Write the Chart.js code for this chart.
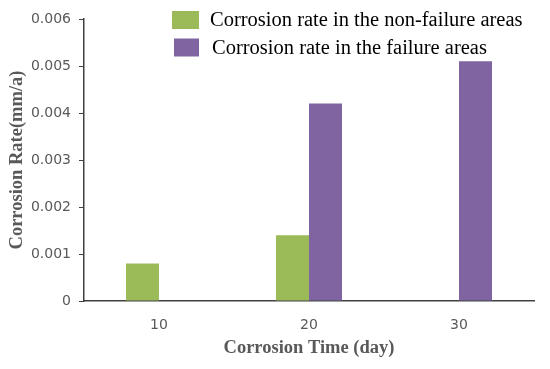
<!DOCTYPE html>
<html>
<head>
<meta charset="utf-8">
<script src="https://cdn.jsdelivr.net/npm/chart.js@4"></script>
<style>
  html, body { margin: 0; padding: 0; background: #fff; }
  #wrap { width: 550px; height: 369px; }
</style>
</head>
<body>
<div id="wrap"><canvas id="chart" width="550" height="369"></canvas></div>
<script>
// Data
const days = ['10', '20', '30'];
const nonFailureRate = [0.0008, 0.0014, null];
const failureRate = [null, 0.0042, 0.0051];
const seriesNames = ['Corrosion rate in the non-failure areas', 'Corrosion rate in the failure areas'];
const seriesColors = ['#9BBB59', '#8064A2'];

const axisColor = '#595959';
const serif = '"Liberation Serif", "Times New Roman", serif';
const sans = '"DejaVu Sans", Verdana, sans-serif';

// Legend drawn inside the plot, top right, like the original
const innerLegend = {
  id: 'innerLegend',
  afterDraw(chart) {
    const ctx = chart.ctx;
    ctx.save();
    ctx.font = '20.5px ' + serif;
    ctx.textBaseline = 'middle';
    chart.data.datasets.forEach((ds, i) => {
      const y = 20 + i * 27.5;
      ctx.fillStyle = ds.backgroundColor;
      ctx.fillRect(172 + i * 2, y - 9, 27 - i * 2, 18);
      ctx.fillStyle = '#000';
      ctx.fillText(ds.label, 210 + i * 2, y + 1);
    });
    ctx.restore();
  }
};

new Chart(document.getElementById('chart'), {
  type: 'bar',
  data: {
    labels: days,
    datasets: [
      { label: seriesNames[0], data: nonFailureRate, backgroundColor: seriesColors[0] },
      { label: seriesNames[1], data: failureRate, backgroundColor: seriesColors[1] }
    ]
  },
  options: {
    responsive: false,
    animation: false,
    layout: { padding: { top: 19, right: 16, left: 6, bottom: 10 } },
    datasets: {
      bar: { categoryPercentage: 0.44, barPercentage: 1.0 }
    },
    plugins: {
      legend: { display: false },
      tooltip: { enabled: false }
    },
    scales: {
      x: {
        grid: { display: false },
        border: { display: true, color: '#404040', width: 1.5 },
        ticks: {
          color: axisColor,
          font: { family: sans, size: 14 },
          padding: 8
        },
        title: {
          display: true,
          text: 'Corrosion Time (day)',
          color: axisColor,
          font: { family: serif, size: 18.5, weight: 'bold' },
          padding: { top: 0, bottom: 0 }
        },
        afterFit(scale) { scale.height = 58; }
      },
      y: {
        min: 0,
        max: 0.006,
        grid: { drawOnChartArea: false, drawTicks: true, tickLength: 5, color: '#404040' },
        border: { display: true, color: '#404040', width: 1.5 },
        ticks: {
          stepSize: 0.001,
          color: axisColor,
          font: { family: sans, size: 14 },
          padding: 8,
          callback: v => v === 0 ? '0' : v.toFixed(3)
        },
        title: {
          display: true,
          text: 'Corrosion Rate(mm/a)',
          color: axisColor,
          font: { family: serif, size: 18.5, weight: 'bold' },
          padding: { top: 0, bottom: 2 }
        },
        afterFit(scale) { scale.width = 78; }
      }
    }
  },
  plugins: [innerLegend]
});
</script>
</body>
</html>
